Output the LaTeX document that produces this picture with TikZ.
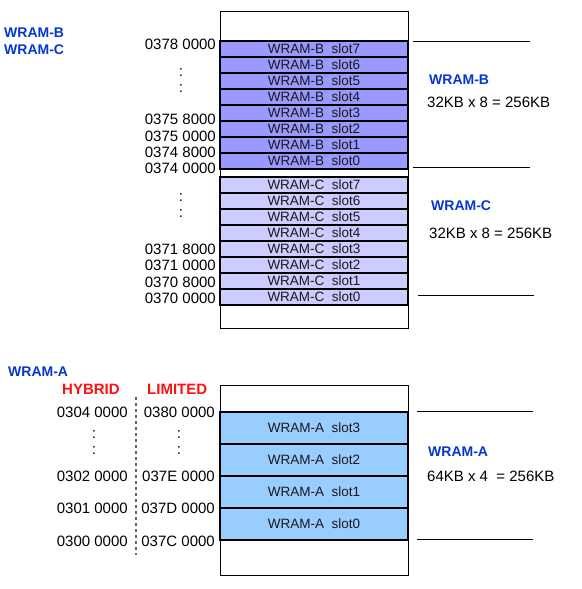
\documentclass[tikz,border=0pt]{standalone}
\usepackage{fontspec}
\setmainfont{Liberation Sans}

\definecolor{wramb}{HTML}{9999FF}
\definecolor{wramc}{HTML}{CCCCFF}
\definecolor{wrama}{HTML}{99CCFF}
\definecolor{ttlblue}{HTML}{0636D0}
\definecolor{ttlred}{HTML}{FF1010}

\tikzset{
    slot/.style={draw=black,line width=1.2pt,minimum width=188pt,minimum height=16pt,
        inner sep=0pt,outer sep=0pt,text=black!90,font=\fontsize{13.5}{14}\selectfont},
    addr/.style={anchor=east,inner sep=0pt,font=\fontsize{15}{16}\selectfont},
    vdots/.style={inner sep=0pt,font=\fontsize{15}{16}\selectfont},
    ttl/.style={anchor=west,inner sep=0pt,text=ttlblue,font=\bfseries\fontsize{14}{15}\selectfont},
    mode/.style={anchor=west,inner sep=0pt,text=ttlred,font=\bfseries\fontsize{15}{16}\selectfont},
    size/.style={anchor=west,inner sep=0pt,font=\fontsize{15}{16}\selectfont},
    mark line/.style={line width=0.9pt}
}

\begin{document}
\begin{tikzpicture}[x=1pt,y=-1pt]
    \useasboundingbox(0,0)rectangle(581,589);

    % WRAM-B / WRAM-C
    \node[ttl](tb)at(4,33){WRAM-B};
    \node[ttl](tc)at(4,50){WRAM-C};
    \draw[line width=0.9pt](220,11)rectangle(408,328);
    \foreach \k in {0,...,7}{
        \node[slot,fill=wramb](b\k)at(314,{49+16*(7-\k)}){WRAM-B\ \ slot\k};
        \node[slot,fill=wramc](c\k)at(314,{185+16*(7-\k)}){WRAM-C\ \ slot\k};
    }

    \node[addr](a1)at(216,44){0378 0000};
    \node[vdots](d1)at(181,73){:};
    \node[vdots](d2)at(181,89){:};
    \node[addr](a2)at(216,119){0375 8000};
    \node[addr](a3)at(216,136){0375 0000};
    \node[addr](a4)at(216,152){0374 8000};
    \node[addr](a5)at(216,168){0374 0000};
    \node[vdots](d3)at(181,198){:};
    \node[vdots](d4)at(181,214){:};
    \node[addr](a6)at(216,249){0371 8000};
    \node[addr](a7)at(216,265){0371 0000};
    \node[addr](a8)at(216,282){0370 8000};
    \node[addr](a9)at(216,298){0370 0000};

    \draw[mark line](413,41)--(530,41);
    \draw[mark line](413,167)--(530,167);
    \draw[mark line](418,295)--(534,295);
    \node[ttl](rb)at(429,80){WRAM-B};
    \node[size](sb)at(427,102){32KB x 8 = 256KB};
    \node[ttl](rc)at(431,206){WRAM-C};
    \node[size](sc)at(429,233){32KB x 8 = 256KB};

    % WRAM-A
    \node[ttl](ta)at(8,372){WRAM-A};
    \node[mode](hy)at(62,389){HYBRID};
    \node[mode](li)at(147,389){LIMITED};
    \draw[black!60,line width=1.6pt,dash pattern=on 3pt off 3pt](136,397)--(136,555);

    \draw[line width=0.9pt](220,385)rectangle(408,575);
    \foreach \k in {0,...,3}{
        \node[slot,fill=wrama,minimum height=32pt](s\k)at(314,{428+32*(3-\k)}){WRAM-A\ \ slot\k};
    }

    \node[addr](h1)at(128,412){0304 0000};
    \node[addr](l1)at(215,412){0380 0000};
    \node[vdots](hd1)at(94,435){:};
    \node[vdots](hd2)at(94,451){:};
    \node[vdots](ld1)at(179,435){:};
    \node[vdots](ld2)at(179,451){:};
    \node[addr](h2)at(128,476){0302 0000};
    \node[addr](l2)at(215,476){037E 0000};
    \node[addr](h3)at(128,508){0301 0000};
    \node[addr](l3)at(215,508){037D 0000};
    \node[addr](h4)at(128,541){0300 0000};
    \node[addr](l4)at(215,541){037C 0000};

    \draw[mark line](417,411)--(533,411);
    \draw[mark line](417,539)--(533,539);
    \node[ttl](ra)at(428,452){WRAM-A};
    \node[size](sa)at(427,476){64KB x 4 \ = 256KB};
\end{tikzpicture}
\end{document}
